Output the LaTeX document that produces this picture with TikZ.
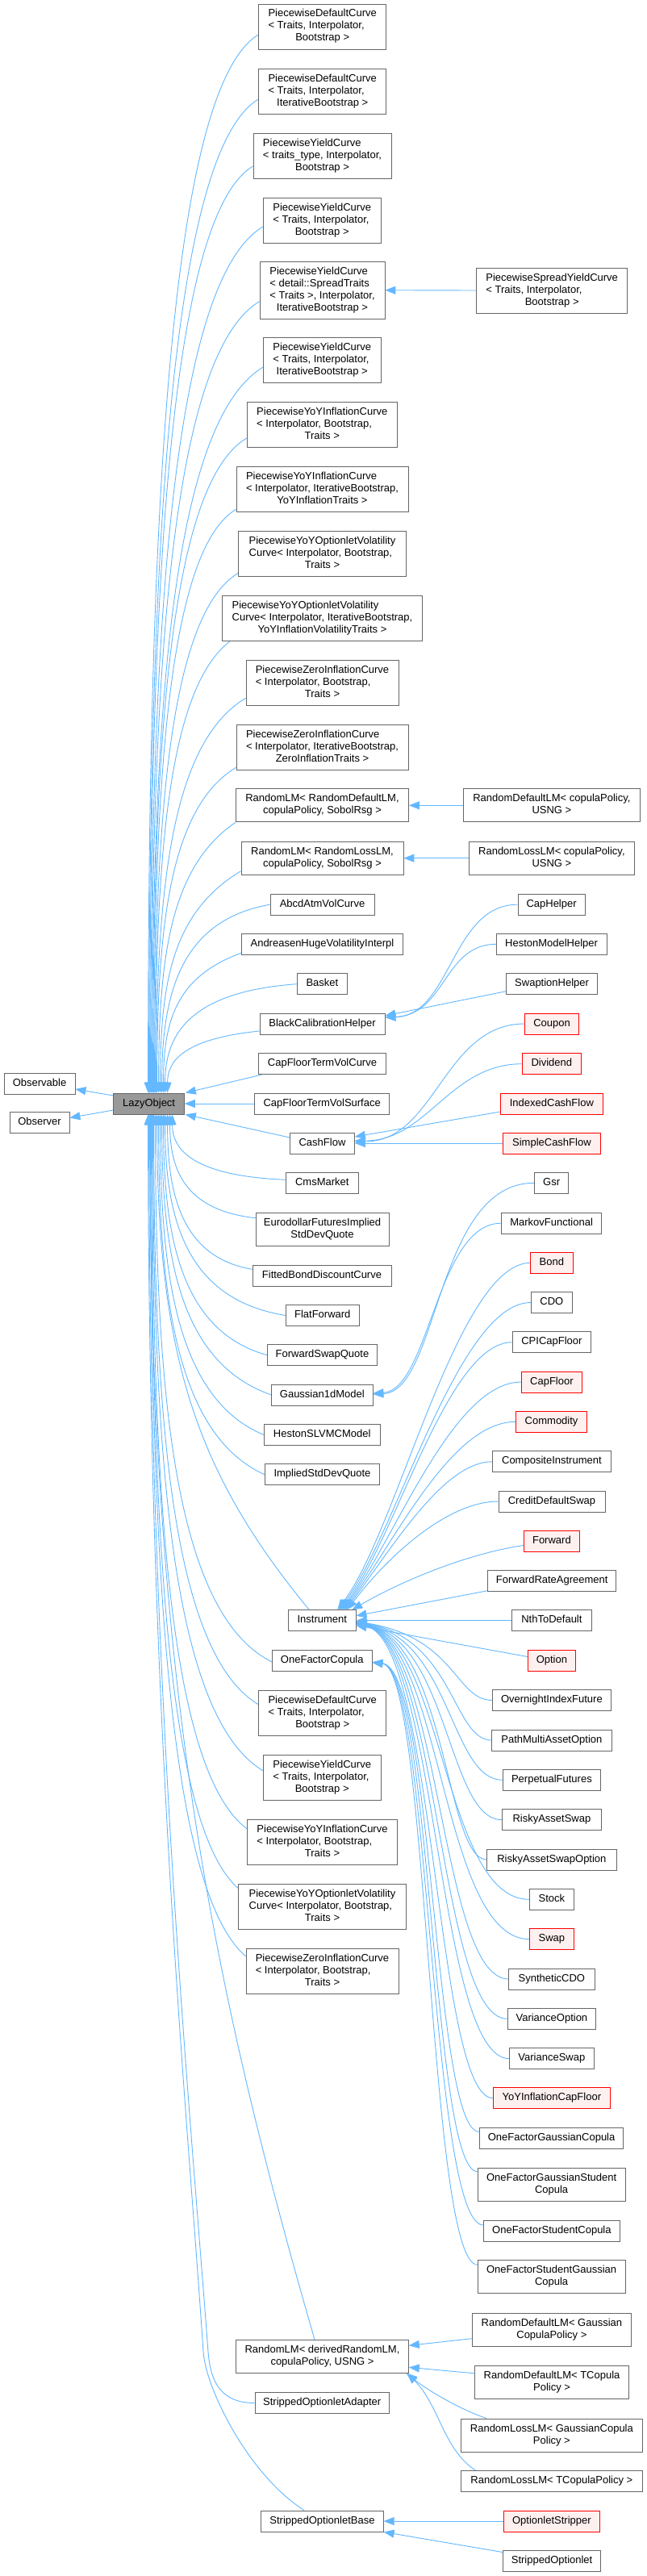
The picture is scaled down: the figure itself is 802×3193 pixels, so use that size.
\documentclass[tikz,border=0pt]{standalone}
\usepackage{fontspec}
\setmainfont{Liberation Sans}
\usetikzlibrary{arrows.meta}
\definecolor{edgeblue}{HTML}{63B8FF}
\definecolor{boxgray}{HTML}{666666}
\definecolor{redfill}{HTML}{FFF0F0}
\definecolor{lazyfill}{HTML}{999999}
\newcommand{\lbl}[2]{\begin{tabular}{@{}l@{}}#1\\\multicolumn{1}{@{}c@{}}{#2}\end{tabular}}
\newcommand{\one}[1]{\begin{tabular}{@{}c@{}}#1\end{tabular}}
\pgfdeclarelayer{back}
\pgfdeclarelayer{edges}
\pgfsetlayers{back,edges,main}
\tikzset{
 box/.style={draw=boxgray, fill=white, line width=0.8pt, inner xsep=4pt, inner ysep=0pt, font=\fontsize{13}{15}\selectfont, minimum height=26pt},
 rbox/.style={box, draw=red, fill=redfill},
 gbox/.style={box, fill=lazyfill},
 htwo/.style={minimum height=41pt},
 hthree/.style={minimum height=56pt},
 hfour/.style={minimum height=71pt},
 edge/.style={draw=edgeblue, line width=0.9pt, -{Triangle[length=13pt,width=10pt]}}
}
\begin{document}
\begin{tikzpicture}[x=1pt,y=-1pt]
\begin{pgfonlayer}{back}
\fill[white] (0,0) rectangle (802,3193);
\end{pgfonlayer}
\useasboundingbox (0,0) rectangle (802,3193);
% left
\node[box,minimum width=88pt] (observable) at (49,1343) {\one{Observable}};
\node[box,minimum width=74pt] (observer) at (49,1391.5) {\one{Observer}};
\node[gbox,minimum width=87.5pt] (lazy) at (184.6,1368) {\one{LazyObject}};
% middle column
\node[box,hthree,minimum width=158pt] (n1) at (399.7,33) {\lbl{PiecewiseDefaultCurve\\< Traits, Interpolator,}{Bootstrap >}};
\node[box,hthree,minimum width=158pt] (n2) at (399.7,113) {\lbl{PiecewiseDefaultCurve\\< Traits, Interpolator,}{IterativeBootstrap >}};
\node[box,hthree,minimum width=171pt] (n3) at (399.5,193) {\lbl{PiecewiseYieldCurve\\< traits\_type, Interpolator,}{Bootstrap >}};
\node[box,hthree,minimum width=146pt] (n4) at (399.2,273) {\lbl{PiecewiseYieldCurve\\< Traits, Interpolator,}{Bootstrap >}};
\node[box,hfour,minimum width=155pt] (n5) at (399.5,359.7) {\lbl{PiecewiseYieldCurve\\< detail::SpreadTraits\\< Traits >, Interpolator,}{IterativeBootstrap >}};
\node[box,hthree,minimum width=146pt] (n6) at (399.2,446.3) {\lbl{PiecewiseYieldCurve\\< Traits, Interpolator,}{IterativeBootstrap >}};
\node[box,hthree,minimum width=186.6pt] (n7) at (399.3,526.2) {\lbl{PiecewiseYoYInflationCurve\\< Interpolator, Bootstrap,}{Traits >}};
\node[box,hthree,minimum width=213pt] (n8) at (399.5,606.3) {\lbl{PiecewiseYoYInflationCurve\\< Interpolator, IterativeBootstrap,}{YoYInflationTraits >}};
\node[box,hthree,minimum width=207.6pt] (n9) at (399.5,686.3) {\lbl{PiecewiseYoYOptionletVolatility\\Curve< Interpolator, Bootstrap,}{Traits >}};
\node[box,hthree,minimum width=247.6pt] (n10) at (399.5,766.3) {\lbl{PiecewiseYoYOptionletVolatility\\Curve< Interpolator, IterativeBootstrap,}{YoYInflationVolatilityTraits >}};
\node[box,hthree,minimum width=189pt] (n11) at (399.5,846.3) {\lbl{PiecewiseZeroInflationCurve\\< Interpolator, Bootstrap,}{Traits >}};
\node[box,hthree,minimum width=213pt] (n12) at (399.5,926.3) {\lbl{PiecewiseZeroInflationCurve\\< Interpolator, IterativeBootstrap,}{ZeroInflationTraits >}};
\node[box,htwo,minimum width=214pt] (n13) at (399.5,998.3) {\lbl{RandomLM< RandomDefaultLM,}{copulaPolicy, SobolRsg >}};
\node[box,htwo,minimum width=201pt] (n14) at (399.5,1063.7) {\lbl{RandomLM< RandomLossLM,}{copulaPolicy, SobolRsg >}};
\node[box,minimum width=129pt] (n15) at (399.5,1121.2) {\one{AbcdAtmVolCurve}};
\node[box,minimum width=200.5pt] (n16) at (399.5,1170.3) {\one{AndreasenHugeVolatilityInterpl}};
\node[box,minimum width=62.4pt] (n17) at (399.4,1219.7) {\one{Basket}};
\node[box,minimum width=155pt] (n18) at (399.5,1269) {\one{BlackCalibrationHelper}};
\node[box,minimum width=157.6pt] (n19) at (399.5,1318.7) {\one{CapFloorTermVolCurve}};
\node[box,minimum width=167.3pt] (n20) at (399.2,1368) {\one{CapFloorTermVolSurface}};
\node[box,minimum width=79.8pt] (n21) at (399.5,1417) {\one{CashFlow}};
\node[box,minimum width=89.5pt] (n22) at (399.3,1466.3) {\one{CmsMarket}};
\node[box,htwo,minimum width=165pt] (n23) at (399.5,1523.7) {\lbl{EurodollarFuturesImplied}{StdDevQuote}};
\node[box,minimum width=172pt] (n24) at (399,1581.3) {\one{FittedBondDiscountCurve}};
\node[box,minimum width=90.5pt] (n25) at (399.8,1630.5) {\one{FlatForward}};
\node[box,minimum width=136pt] (n26) at (399.5,1679.7) {\one{ForwardSwapQuote}};
\node[box,minimum width=125.3pt] (n27) at (399.3,1729) {\one{Gaussian1dModel}};
\node[box,minimum width=143.6pt] (n28) at (399.2,1778.5) {\one{HestonSLVMCModel}};
\node[box,minimum width=142.2pt] (n29) at (399.5,1827.8) {\one{ImpliedStdDevQuote}};
\node[box,minimum width=83.5pt] (n30) at (399.3,2008.8) {\one{Instrument}};
\node[box,minimum width=123.3pt] (n31) at (399.3,2058.5) {\one{OneFactorCopula}};
\node[box,hthree,minimum width=158pt] (n32) at (399.7,2123.7) {\lbl{PiecewiseDefaultCurve\\< Traits, Interpolator,}{Bootstrap >}};
\node[box,hthree,minimum width=146pt] (n33) at (399.2,2203.7) {\lbl{PiecewiseYieldCurve\\< Traits, Interpolator,}{Bootstrap >}};
\node[box,hthree,minimum width=186.2pt] (n34) at (399.5,2283.7) {\lbl{PiecewiseYoYInflationCurve\\< Interpolator, Bootstrap,}{Traits >}};
\node[box,hthree,minimum width=207.6pt] (n35) at (399.5,2363.5) {\lbl{PiecewiseYoYOptionletVolatility\\Curve< Interpolator, Bootstrap,}{Traits >}};
\node[box,hthree,minimum width=189pt] (n36) at (399.5,2443.7) {\lbl{PiecewiseZeroInflationCurve\\< Interpolator, Bootstrap,}{Traits >}};
\node[box,htwo,minimum width=213.8pt] (n37) at (399.5,2920.8) {\lbl{RandomLM< derivedRandomLM,}{copulaPolicy, USNG >}};
\node[box,minimum width=166.2pt] (n38) at (399.2,2978.5) {\one{StrippedOptionletAdapter}};
\node[box,minimum width=151.4pt] (n39) at (399.5,3125) {\one{StrippedOptionletBase}};
% right column
\node[box,hthree,minimum width=187pt] (psyc) at (684.2,360) {\lbl{PiecewiseSpreadYieldCurve\\< Traits, Interpolator,}{Bootstrap >}};
\node[box,htwo,minimum width=219pt] (rdlm1) at (683.9,998.3) {\lbl{RandomDefaultLM< copulaPolicy,}{USNG >}};
\node[box,htwo,minimum width=204.6pt] (rllm1) at (683.9,1063.7) {\lbl{RandomLossLM< copulaPolicy,}{USNG >}};
\node[box,minimum width=83.4pt] (caphelper) at (683.6,1121.2) {\one{CapHelper}};
\node[box,minimum width=136.6pt] (hestonmh) at (683.6,1170.3) {\one{HestonModelHelper}};
\node[box,minimum width=113pt] (swaptionh) at (684.1,1219.7) {\one{SwaptionHelper}};
\node[rbox,minimum width=67pt] (coupon) at (684.1,1269) {\one{Coupon}};
\node[rbox,minimum width=72.6pt] (dividend) at (683.8,1318.7) {\one{Dividend}};
\node[rbox,minimum width=126.8pt] (icf) at (683.9,1368) {\one{IndexedCashFlow}};
\node[rbox,minimum width=120.8pt] (scf) at (683.9,1417) {\one{SimpleCashFlow}};
\node[box,minimum width=42.5pt] (gsr) at (683.6,1466.3) {\one{Gsr}};
\node[box,minimum width=124.3pt] (markov) at (683.6,1516.2) {\one{MarkovFunctional}};
\node[rbox,minimum width=52.2pt] (bond) at (683.9,1565.3) {\one{Bond}};
\node[box,minimum width=51.2pt] (cdo) at (683.9,1614.5) {\one{CDO}};
\node[box,minimum width=97.2pt] (cpicf) at (683.9,1663.7) {\one{CPICapFloor}};
\node[rbox,minimum width=74.7pt] (capfloor) at (683.9,1713) {\one{CapFloor}};
\node[rbox,minimum width=88.5pt] (commodity) at (683.6,1762.3) {\one{Commodity}};
\node[box,minimum width=146.3pt] (composite) at (683.9,1811.7) {\one{CompositeInstrument}};
\node[box,minimum width=132pt] (cds) at (684,1861) {\one{CreditDefaultSwap}};
\node[rbox,minimum width=68.6pt] (forward) at (683.9,1910.5) {\one{Forward}};
\node[box,minimum width=159.1pt] (fra) at (684.2,1959.7) {\one{ForwardRateAgreement}};
\node[box,minimum width=98.2pt] (nth) at (683.9,2008.8) {\one{NthToDefault}};
\node[rbox,minimum width=59.4pt] (option) at (683.9,2058.5) {\one{Option}};
\node[box,minimum width=146.3pt] (oif) at (683.9,2107.5) {\one{OvernightIndexFuture}};
\node[box,minimum width=148.3pt] (pmao) at (683.9,2157) {\one{PathMultiAssetOption}};
\node[box,minimum width=120.8pt] (perp) at (683.9,2206.3) {\one{PerpetualFutures}};
\node[box,minimum width=122.8pt] (ras) at (683.9,2255.7) {\one{RiskyAssetSwap}};
\node[box,minimum width=160.6pt] (raso) at (683.9,2305) {\one{RiskyAssetSwapOption}};
\node[box,minimum width=55.2pt] (stock) at (683.9,2354.3) {\one{Stock}};
\node[rbox,minimum width=54.2pt] (swap) at (683.9,2403.7) {\one{Swap}};
\node[box,minimum width=106.4pt] (scdo) at (683.9,2453) {\one{SyntheticCDO}};
\node[box,minimum width=109.5pt] (varopt) at (683.9,2502.3) {\one{VarianceOption}};
\node[box,minimum width=104.3pt] (varswap) at (683.9,2551.7) {\one{VarianceSwap}};
\node[rbox,minimum width=144.3pt] (yoycf) at (683.9,2600.8) {\one{YoYInflationCapFloor}};
\node[box,minimum width=178.5pt] (ofgc) at (683.6,2650.3) {\one{OneFactorGaussianCopula}};
\node[box,htwo,minimum width=182.6pt] (ofgsc) at (683.6,2707.8) {\lbl{OneFactorGaussianStudent}{Copula}};
\node[box,minimum width=168.8pt] (ofsc) at (683.9,2765) {\one{OneFactorStudentCopula}};
\node[box,htwo,minimum width=182.6pt] (ofsgc) at (683.6,2822.2) {\lbl{OneFactorStudentGaussian}{Copula}};
\node[box,htwo,minimum width=197.4pt] (rdlmg) at (683.9,2887.7) {\lbl{RandomDefaultLM< Gaussian}{CopulaPolicy >}};
\node[box,htwo,minimum width=190.8pt] (rdlmt) at (684.1,2952.8) {\lbl{RandomDefaultLM< TCopula}{Policy >}};
\node[box,htwo,minimum width=225pt] (rllmg) at (683.9,3018.5) {\lbl{RandomLossLM< GaussianCopula}{Policy >}};
\node[box,minimum width=225pt] (rllmt) at (683.9,3075.7) {\one{RandomLossLM< TCopulaPolicy >}};
\node[rbox,minimum width=118.7pt] (ostripper) at (683.9,3125) {\one{OptionletStripper}};
\node[box,minimum width=121.3pt] (sopt) at (684.1,3174.5) {\one{StrippedOptionlet}};

\begin{pgfonlayer}{edges}
% LazyObject bases
\draw[edge] ([yshift=10pt]lazy.west) -- ([yshift=-7pt]observable.east);
\draw[edge] ([yshift=-8pt]lazy.west) -- ([yshift=6pt]observer.east);
% upper children of LazyObject
\draw[edge] ([yshift=-10pt]n1.west) .. controls +(-116,70) and +(0,-656) .. ([xshift=-1pt]lazy.north);
\draw[edge] ([yshift=-10pt]n2.west) .. controls +(-115,69) and +(0,-616) .. ([xshift=0pt]lazy.north);
\draw[edge] ([yshift=-13pt]n3.west) .. controls +(-109,65) and +(0,-575) .. ([xshift=1pt]lazy.north);
\draw[edge] ([yshift=-8pt]n4.west) .. controls +(-118,71) and +(0,-537) .. ([xshift=2pt]lazy.north);
\draw[edge] ([yshift=-14pt]n5.west) .. controls +(-114,68) and +(0,-491) .. ([xshift=3pt]lazy.north);
\draw[edge] ([yshift=-9pt]n6.west) .. controls +(-116,70) and +(0,-450) .. ([xshift=4pt]lazy.north);
\draw[edge] ([yshift=-17pt]n7.west) .. controls +(-99,59) and +(0,-406) .. ([xshift=5pt]lazy.north);
\draw[edge] ([yshift=-25pt]n8.west) .. controls +(-87,52) and +(0,-362) .. ([xshift=6pt]lazy.north);
\draw[edge] ([yshift=-24pt]n9.west) .. controls +(-88,53) and +(0,-322) .. ([xshift=7pt]lazy.north);
\draw[edge] ([xshift=10pt]n10.south west) .. controls +(-79,60) and +(0,-280) .. ([xshift=8pt]lazy.north);
\draw[edge] ([yshift=-19pt]n11.west) .. controls +(-94,56) and +(0,-245) .. ([xshift=9pt]lazy.north);
\draw[edge] ([yshift=-25pt]n12.west) .. controls +(-83,50) and +(0,-202) .. ([xshift=10pt]lazy.north);
\draw[edge] (n13.south west) .. controls +(-81,55) and +(0,-168) .. ([xshift=12pt]lazy.north);
\draw[edge] ([yshift=-16pt]n14.west) .. controls +(-85,51) and +(0,-137) .. ([xshift=14pt]lazy.north);
\draw[edge] (n15.west) .. controls +(-114,20) and +(0,-117) .. ([xshift=16pt]lazy.north);
\draw[edge] ([yshift=-11pt]n16.west) .. controls +(-82,30) and +(0,-87) .. ([xshift=18pt]lazy.north);
\draw[edge] (n17.west) .. controls +(-139,10) and +(0,-67) .. ([xshift=20pt]lazy.north);
\draw[edge] ([yshift=-9pt]n18.west) .. controls +(-97,10) and +(0,-38) .. ([xshift=23pt]lazy.north);
\draw[edge] ([xshift=4pt]n19.south west) -- ([xshift=1pt]lazy.north east);
\draw[edge] (n20.west) -- (lazy.east);
\draw[edge] ([yshift=7pt]n21.west) -- ([xshift=1pt]lazy.south east);
% lower children of LazyObject
\draw[edge] ([yshift=4pt]n22.west) .. controls +(-121,-5) and +(0,40) .. ([xshift=29pt]lazy.south);
\draw[edge] ([yshift=14pt]n23.west) .. controls +(-91,-10) and +(0,64) .. ([xshift=26pt]lazy.south);
\draw[edge] ([yshift=8pt]n24.west) .. controls +(-89,-15) and +(0,96) .. ([xshift=23pt]lazy.south);
\draw[edge] (n25.west) .. controls +(-126,-20) and +(0,125) .. ([xshift=20pt]lazy.south);
\draw[edge] (n26.west) .. controls +(-108,-30) and +(0,149) .. ([xshift=18pt]lazy.south);
\draw[edge] (n27.west) .. controls +(-114,-40) and +(0,174) .. ([xshift=16pt]lazy.south);
\draw[edge] (n28.west) .. controls +(-108,-45) and +(0,198) .. ([xshift=14pt]lazy.south);
\draw[edge] (n29.west) .. controls +(-110,-50) and +(0,223) .. ([xshift=12pt]lazy.south);
\draw[edge] ([xshift=-16pt]n30.north) .. controls +(-140,-170) and +(0,300) .. ([xshift=10pt]lazy.south);
\draw[edge] ([yshift=-1.5pt]n31.west) .. controls +(-122,-60) and +(0,340) .. ([xshift=8pt]lazy.south);
\draw[edge] ([yshift=11pt]n32.west) .. controls +(-109,-65) and +(0,365) .. ([xshift=6pt]lazy.south);
\draw[edge] ([yshift=9pt]n33.west) .. controls +(-116,-70) and +(0,407) .. ([xshift=5pt]lazy.south);
\draw[edge] ([yshift=17pt]n34.west) .. controls +(-100,-75) and +(0,443) .. ([xshift=4pt]lazy.south);
\draw[edge] ([yshift=23pt]n35.west) .. controls +(-92,-80) and +(0,480) .. ([xshift=3pt]lazy.south);
\draw[edge] ([yshift=19pt]n36.west) .. controls +(-100,-85) and +(0,522) .. ([xshift=2pt]lazy.south);
\draw[edge] ([xshift=-9.5pt]n37.north) .. controls +(-130,-450) and +(0,700) .. ([xshift=1pt]lazy.south);
\draw[edge] (n38.west) .. controls +(-40,0) and +(3,40) .. (258,2915) .. controls +(-24,-320) and +(0,700) .. ([xshift=0pt]lazy.south);
\draw[edge] ([xshift=-22.5pt]n39.north) .. controls +(-70,-45) and +(3,45) .. (252,2915) .. controls +(-20,-300) and +(0,750) .. ([xshift=-1pt]lazy.south);
% right column -> middle
\draw[edge] (psyc.west) -- (n5.east);
\draw[edge] (rdlm1.west) -- (n13.east);
\draw[edge] (rllm1.west) -- (n14.east);
\draw[edge] (caphelper.west) .. controls +(-82,0) and +(82,-2) .. ([yshift=8pt]n18.east);
\draw[edge] (hestonmh.west) .. controls +(-65,0) and +(75,-3) .. ([yshift=8pt]n18.east);
\draw[edge] ([yshift=-9pt]swaptionh.west) -- ([yshift=10pt]n18.east);
\draw[edge] (coupon.west) .. controls +(-100,0) and +(100,0) .. ([yshift=2pt]n21.east);
\draw[edge] (dividend.west) .. controls +(-90,0) and +(90,0) .. ([yshift=3pt]n21.east);
\draw[edge] ([yshift=-10pt]icf.west) -- ([yshift=8pt]n21.east);
\draw[edge] (scf.west) -- (n21.east);
\draw[edge] (gsr.west) .. controls +(-122,0) and +(82,-3) .. ([yshift=1pt]n27.east);
\draw[edge] (markov.west) .. controls +(-80,0) and +(70,-4) .. ([yshift=2pt]n27.east);
% Instrument
\draw[edge] (bond.west) .. controls +(-90,0) and +(75,-100) .. ([xshift=19pt]n30.north);
\draw[edge] (cdo.west) .. controls +(-90,0) and +(72,-96) .. ([xshift=21pt]n30.north);
\draw[edge] (cpicf.west) .. controls +(-80,0) and +(70,-92) .. ([xshift=23pt]n30.north);
\draw[edge] (capfloor.west) .. controls +(-85,0) and +(66,-88) .. ([xshift=25pt]n30.north);
\draw[edge] (commodity.west) .. controls +(-80,0) and +(63,-84) .. ([xshift=27pt]n30.north);
\draw[edge] (composite.west) .. controls +(-60,0) and +(60,-80) .. ([xshift=29pt]n30.north);
\draw[edge] (cds.west) .. controls +(-60,0) and +(55,-72) .. ([xshift=31pt]n30.north);
\draw[edge] ([yshift=-5pt]forward.west) .. controls +(-70,10) and +(60,-35) .. ([xshift=37pt]n30.north);
\draw[edge] ([yshift=-12pt]fra.west) -- ([yshift=6pt]n30.east);
\draw[edge] (nth.west) -- (n30.east);
\draw[edge] ([yshift=5pt]option.west) -- ([yshift=-6pt]n30.east);
\draw[edge] (oif.west) .. controls +(-46,0) and +(124,20) .. ([yshift=-1pt]n30.east);
\draw[edge] (pmao.west) .. controls +(-48,0) and +(121,20) .. ([yshift=-1.5pt]n30.east);
\draw[edge] (perp.west) .. controls +(-65,0) and +(118,20) .. ([yshift=-2pt]n30.east);
\draw[edge] (ras.west) .. controls +(-67,0) and +(115,20) .. ([yshift=-2.5pt]n30.east);
\draw[edge] (raso.west) .. controls +(-51,0) and +(112,20) .. ([yshift=-3pt]n30.east);
\draw[edge] (stock.west) .. controls +(-106,0) and +(109,20) .. ([yshift=-3pt]n30.east);
\draw[edge] (swap.west) .. controls +(-109,0) and +(107,20) .. ([yshift=-3.5pt]n30.east);
\draw[edge] (scdo.west) .. controls +(-85,0) and +(105,20) .. ([yshift=-3.5pt]n30.east);
\draw[edge] (varopt.west) .. controls +(-85,0) and +(103,20) .. ([yshift=-4pt]n30.east);
\draw[edge] (varswap.west) .. controls +(-90,0) and +(101,20) .. ([yshift=-4pt]n30.east);
\draw[edge] (yoycf.west) .. controls +(-72,0) and +(99,20) .. ([yshift=-4.5pt]n30.east);
% OneFactorCopula
\draw[edge] ([yshift=8pt]ofgc.west) .. controls +(-57,0) and +(76,8) .. ([yshift=-2pt]n31.east);
\draw[edge] ([yshift=16pt]ofgsc.west) .. controls +(-57,0) and +(74,8) .. ([yshift=-2pt]n31.east);
\draw[edge] ([yshift=7pt]ofsc.west) .. controls +(-66,0) and +(72,8) .. ([yshift=-2pt]n31.east);
\draw[edge] ([yshift=15pt]ofsgc.west) .. controls +(-61,0) and +(70,8) .. ([yshift=-2pt]n31.east);
% RandomLM derived
\draw[edge] ([yshift=-11pt]rdlmg.west) -- ([yshift=13.5pt]n37.east);
\draw[edge] ([yshift=11pt]rdlmt.west) -- ([yshift=-13.5pt]n37.east);
\draw[edge] ([xshift=32pt]rllmg.north west) .. controls +(-35,-12) and +(25,20) .. ([xshift=-3pt]n37.south east);
\draw[edge] ([xshift=19pt]rllmt.north west) .. controls +(-40,-25) and +(40,40) .. ([xshift=-2pt]n37.south east);
% StrippedOptionletBase
\draw[edge] (ostripper.west) -- (n39.east);
\draw[edge] ([yshift=11pt]sopt.west) -- (n39.south east);
\end{pgfonlayer}
\end{tikzpicture}
\end{document}
